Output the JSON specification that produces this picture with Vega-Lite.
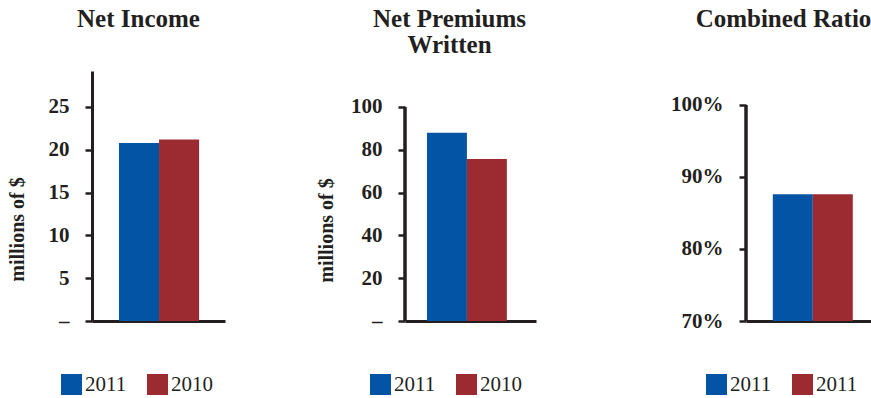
{
  "$schema": "https://vega.github.io/schema/vega-lite/v6.json",
  "background": "white",
  "padding": {"left": 7, "top": 7, "right": 0, "bottom": 0},
  "config": {
    "view": {"stroke": null},
    "font": "Liberation Serif",
    "axis": {"grid": false, "domainColor": "#231f20", "domainWidth": 3, "tickColor": "#231f20", "tickWidth": 2.5, "tickSize": 7, "labelFont": "Liberation Serif", "labelFontSize": 21, "labelFontWeight": "bold", "labelColor": "#231f20", "labelPadding": 16, "titleFont": "Liberation Serif", "titleFontSize": 20, "titleFontWeight": "bold", "titleColor": "#231f20"},
    "legend": {"orient": "none", "direction": "horizontal", "title": null, "padding": 0, "symbolType": "square", "symbolSize": 441, "symbolStrokeWidth": 0, "symbolOpacity": 1, "labelFont": "Liberation Serif", "labelFontSize": 21, "labelColor": "#231f20", "labelOffset": 3, "columnPadding": 20},
    "title": {"font": "Liberation Serif", "fontSize": 25, "fontWeight": "bold", "color": "#231f20", "frame": "group", "anchor": "middle"}
  },
  "data": {"values": [
    {"metric": "Net Income", "year": "2011", "value": 20.8},
    {"metric": "Net Income", "year": "2010", "value": 21.2},
    {"metric": "Net Premiums Written", "year": "2011", "value": 87.9},
    {"metric": "Net Premiums Written", "year": "2010", "value": 75.7},
    {"metric": "Combined Ratio", "year": "2011", "value": 0.876},
    {"metric": "Combined Ratio", "year": "2010", "value": 0.876}
  ]},
  "spacing": 134,
  "resolve": {"scale": {"color": "independent"}, "legend": {"color": "independent"}},
  "hconcat": [
    {
      "spacing": 91,
      "resolve": {"scale": {"color": "independent"}, "legend": {"color": "independent"}},
      "hconcat": [
        {
          "width": 133, "height": 250,
          "title": {"text": "Net Income", "offset": 39, "dx": -20},
          "transform": [{"filter": "datum.metric == 'Net Income'"}],
          "mark": {"type": "bar"},
          "encoding": {
            "x": {"field": "year", "type": "nominal", "sort": ["2011", "2010"], "scale": {"paddingInner": 0, "paddingOuter": 0.66, "align": 0.51}, "axis": {"labels": false, "ticks": false, "title": null}},
            "y": {"field": "value", "type": "quantitative", "scale": {"domain": [0, 29.2], "nice": false}, "axis": {"values": [0, 5, 10, 15, 20, 25], "labelExpr": "datum.value == 0 ? '–' : datum.label", "title": "millions of $", "titleX": -75, "titleY": 158, "titleAngle": -90, "titleAlign": "center", "titleBaseline": "middle"}},
            "color": {"field": "year", "type": "nominal", "scale": {"domain": ["2011", "2010"], "range": ["#0454a6", "#9c2b31"]}, "legend": {"legendX": -31, "legendY": 303}}
          }
        },
        {
          "width": 131, "height": 250,
          "title": {"text": ["Net Premiums", "Written"], "offset": 13, "dx": -21, "lineHeight": 26},
          "transform": [{"filter": "datum.metric == 'Net Premiums Written'"}],
          "layer": [
            {
              "mark": {"type": "bar"},
              "encoding": {
                "x": {"field": "year", "type": "nominal", "sort": ["2011", "2010"], "scale": {"paddingInner": 0, "paddingOuter": 0.64, "align": 0.43}, "axis": {"labels": false, "ticks": false, "title": null}},
                "y": {"field": "value", "type": "quantitative", "scale": {"domain": [0, 116.8], "nice": false}, "axis": {"values": [0, 20, 40, 60, 80, 100], "domain": false, "labelExpr": "datum.value == 0 ? '–' : datum.label", "title": "millions of $", "titleX": -79, "titleY": 159, "titleAngle": -90, "titleAlign": "center", "titleBaseline": "middle"}},
                "color": {"field": "year", "type": "nominal", "scale": {"domain": ["2011", "2010"], "range": ["#0454a6", "#9c2b31"]}, "legend": {"legendX": -35, "legendY": 303}}
              }
            },
            {
              "mark": {"type": "rule", "color": "#231f20", "strokeWidth": 3},
              "encoding": {
                "x": {"datum": 0, "type": "quantitative", "scale": {"domain": [0, 1]}, "axis": null},
                "y": {"datum": 0},
                "y2": {"datum": 100}
              }
            }
          ],
          "resolve": {"scale": {"x": "independent"}}
        }
      ]
    },
    {
      "width": 127, "height": 250,
      "title": {"text": "Combined Ratio", "offset": 39, "dx": -26},
      "transform": [{"filter": "datum.metric == 'Combined Ratio'"}],
      "layer": [
        {
          "mark": {"type": "bar"},
          "encoding": {
            "x": {"field": "year", "type": "nominal", "sort": ["2011", "2010"], "scale": {"paddingInner": 0, "paddingOuter": 0.5875, "align": 0.57}, "axis": {"labels": false, "ticks": false, "title": null}},
            "y": {"field": "value", "type": "quantitative", "scale": {"domain": [0.7, 1.0472], "nice": false, "zero": false}, "axis": {"values": [0.7, 0.8, 0.9, 1.0], "domain": false, "format": ".0%", "title": null}},
            "y2": {"datum": 0.7},
            "color": {"field": "year", "type": "nominal", "scale": {"domain": ["2011", "2010"], "range": ["#0454a6", "#9c2b31"]}, "legend": {"legendX": -40, "legendY": 303, "labelExpr": "'2011'"}}
          }
        },
        {
          "mark": {"type": "rule", "color": "#231f20", "strokeWidth": 3},
          "encoding": {
            "x": {"datum": 0, "type": "quantitative", "scale": {"domain": [0, 1]}, "axis": null},
            "y": {"datum": 0.7},
            "y2": {"datum": 1.0}
          }
        }
      ],
      "resolve": {"scale": {"x": "independent"}}
    }
  ]
}
